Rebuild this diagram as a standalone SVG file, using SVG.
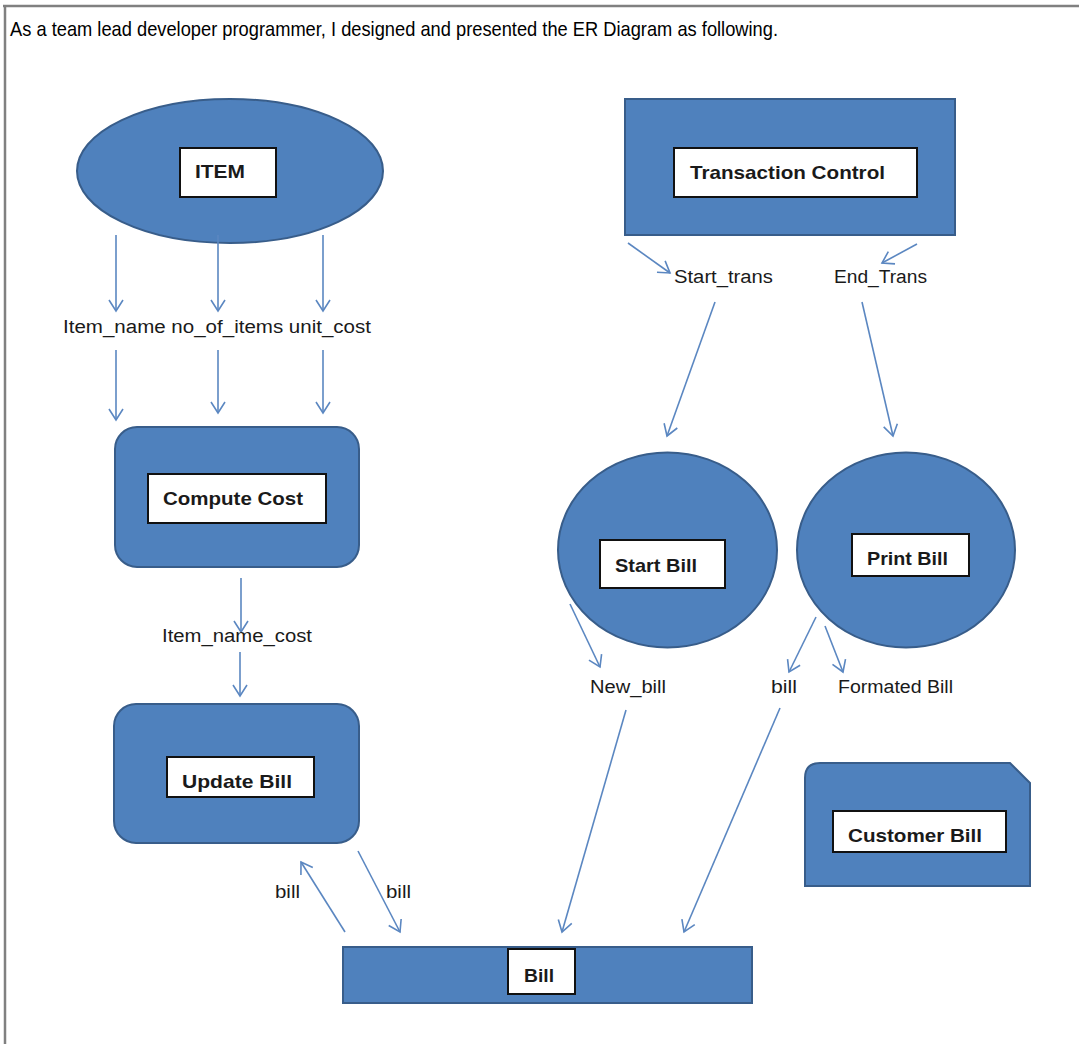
<svg xmlns="http://www.w3.org/2000/svg" width="1079" height="1044" viewBox="0 0 1079 1044">
<style>
.shape{fill:#4F81BD;stroke:#385D8A;stroke-width:2}
.lbl{fill:#fff;stroke:#111;stroke-width:2}
.bt{font-family:"Liberation Sans",Arial,sans-serif;font-weight:bold;font-size:19px;fill:#1a1a1a}
.t{font-family:"Liberation Sans",Arial,sans-serif;font-size:18px;fill:#1a1a1a}
.title{font-family:"Liberation Sans",Arial,sans-serif;font-size:21px;fill:#000}
.c{stroke:#5B87C1;stroke-width:1.6;fill:none;marker-end:url(#ah)}
</style>
<defs>
<marker id="ah" viewBox="-13 -9 15 18" markerWidth="15" markerHeight="18" refX="0" refY="0" orient="auto" markerUnits="userSpaceOnUse">
<path d="M-11,-7 L0,0 L-11,7" fill="none" stroke="#5B87C1" stroke-width="1.6"/>
</marker>
</defs>
<rect x="0" y="0" width="1079" height="1044" fill="#fff"/>
<g id="frame">
<line x1="3" y1="6" x2="1079" y2="6" stroke="#808080" stroke-width="2.5"/>
<line x1="5" y1="5" x2="5" y2="1044" stroke="#808080" stroke-width="2.5"/>
<text class="title" x="10" y="36" textLength="768" lengthAdjust="spacingAndGlyphs">As a team lead developer programmer, I designed and presented the ER Diagram as following.</text>
</g>
<g id="item">
<ellipse class="shape" cx="230" cy="171" rx="153" ry="72"/>
<rect class="lbl" x="180" y="148" width="96" height="49"/>
<text class="bt" x="195" y="178" textLength="50" lengthAdjust="spacingAndGlyphs">ITEM</text>
</g>
<g id="compute-cost">
<rect class="shape" x="115" y="427" width="244" height="140" rx="22"/>
<rect class="lbl" x="148" y="474" width="178" height="49"/>
<text class="bt" x="163" y="505" textLength="140" lengthAdjust="spacingAndGlyphs">Compute Cost</text>
</g>
<g id="update-bill">
<rect class="shape" x="114" y="704" width="245" height="139" rx="22"/>
<rect class="lbl" x="167" y="757" width="147" height="40"/>
<text class="bt" x="182" y="788" textLength="110" lengthAdjust="spacingAndGlyphs">Update Bill</text>
</g>
<g id="transaction-control">
<rect class="shape" x="625" y="99" width="330" height="136"/>
<rect class="lbl" x="674" y="148" width="243" height="49"/>
<text class="bt" x="690" y="179" textLength="195" lengthAdjust="spacingAndGlyphs">Transaction Control</text>
</g>
<g id="start-bill">
<ellipse class="shape" cx="667.5" cy="550" rx="109.5" ry="97.5"/>
<rect class="lbl" x="600" y="540" width="125" height="48"/>
<text class="bt" x="615" y="572" textLength="82" lengthAdjust="spacingAndGlyphs">Start Bill</text>
</g>
<g id="print-bill">
<ellipse class="shape" cx="906" cy="550" rx="109" ry="97.5"/>
<rect class="lbl" x="852" y="534" width="117" height="42"/>
<text class="bt" x="867" y="565" textLength="81" lengthAdjust="spacingAndGlyphs">Print Bill</text>
</g>
<g id="bill">
<rect class="shape" x="343" y="947" width="409" height="56"/>
<rect class="lbl" x="508" y="949" width="67" height="45"/>
<text class="bt" x="524" y="982" textLength="30" lengthAdjust="spacingAndGlyphs">Bill</text>
</g>
<g id="customer-bill">
<path class="shape" d="M805,778 Q805,763 820,763 L1010,763 L1030,783 L1030,886 L805,886 Z"/>
<rect class="lbl" x="833" y="811" width="173" height="41"/>
<text class="bt" x="848" y="842" textLength="134" lengthAdjust="spacingAndGlyphs">Customer Bill</text>
</g>
<g id="connectors">
<line class="c" x1="116" y1="235" x2="116" y2="311"/>
<line class="c" x1="218" y1="235" x2="218" y2="311"/>
<line class="c" x1="323" y1="235" x2="323" y2="311"/>
<line class="c" x1="116" y1="350" x2="116" y2="420"/>
<line class="c" x1="218" y1="350" x2="218" y2="413"/>
<line class="c" x1="323" y1="350" x2="323" y2="413"/>
<line class="c" x1="241" y1="578" x2="241" y2="632"/>
<line class="c" x1="240" y1="652" x2="240" y2="696"/>
<line class="c" x1="345" y1="932" x2="301" y2="862"/>
<line class="c" x1="358" y1="851" x2="400" y2="932"/>
<line class="c" x1="628" y1="243" x2="670" y2="273"/>
<line class="c" x1="917" y1="244" x2="882" y2="263"/>
<line class="c" x1="715" y1="302" x2="667" y2="436"/>
<line class="c" x1="862" y1="302" x2="893" y2="436"/>
<line class="c" x1="570" y1="604" x2="600" y2="667"/>
<line class="c" x1="816" y1="617" x2="789" y2="672"/>
<line class="c" x1="825" y1="626" x2="843" y2="672"/>
<line class="c" x1="626" y1="710" x2="562" y2="932"/>
<line class="c" x1="780" y1="708" x2="684" y2="932"/>
<text class="t" x="63" y="333" textLength="308" lengthAdjust="spacingAndGlyphs">Item_name no_of_items unit_cost</text>
<text class="t" x="162" y="642" textLength="150" lengthAdjust="spacingAndGlyphs">Item_name_cost</text>
<text class="t" x="275" y="898" textLength="25" lengthAdjust="spacingAndGlyphs">bill</text>
<text class="t" x="386" y="898" textLength="25" lengthAdjust="spacingAndGlyphs">bill</text>
<text class="t" x="674" y="283" textLength="99" lengthAdjust="spacingAndGlyphs">Start_trans</text>
<text class="t" x="834" y="283" textLength="93" lengthAdjust="spacingAndGlyphs">End_Trans</text>
<text class="t" x="590" y="693" textLength="76" lengthAdjust="spacingAndGlyphs">New_bill</text>
<text class="t" x="771" y="693" textLength="26" lengthAdjust="spacingAndGlyphs">bill</text>
<text class="t" x="838" y="693" textLength="115" lengthAdjust="spacingAndGlyphs">Formated Bill</text>
</g>
</svg>
